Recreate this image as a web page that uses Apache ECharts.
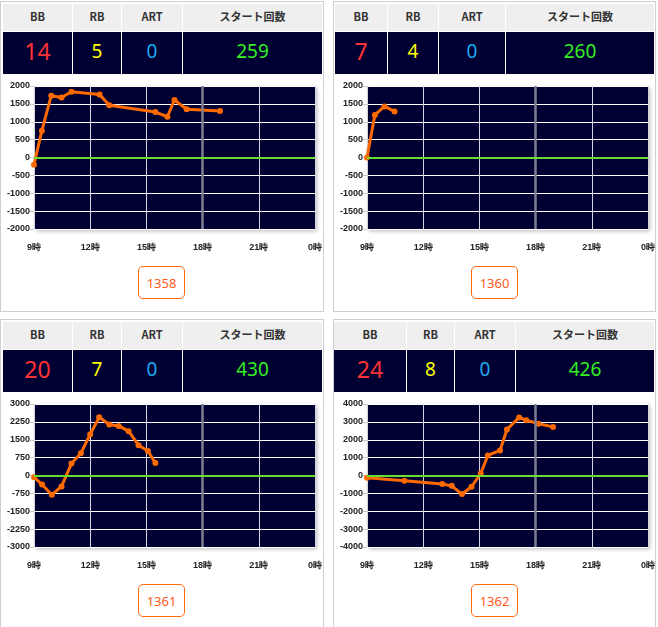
<!DOCTYPE html>
<html><head><meta charset="utf-8">
<script src="https://cdn.jsdelivr.net/npm/echarts@6/dist/echarts.min.js"></script>
<style>
html,body{margin:0;padding:0;background:#fff;}
#wrap{position:relative;width:658px;height:627px;overflow:hidden;}
.panel{position:absolute;box-sizing:border-box;border:1px solid #cfcfcf;background:#fff;}
.cell{position:absolute;display:flex;align-items:center;justify-content:center;box-sizing:border-box;}
.hd{background:#efefef;color:#333;font:bold 11px "Noto Sans CJK JP",sans-serif;padding-bottom:3px;}
.dt{background:#000033;font-family:"Noto Sans","Noto Sans CJK JP",sans-serif;padding-bottom:4px;}
.btn{position:absolute;box-sizing:border-box;border:1px solid #ff6a10;border-radius:5px;color:#ff5a1a;font:13px "Noto Sans",sans-serif;display:flex;align-items:center;justify-content:center;background:#fff;}
#chart{position:absolute;left:0;top:0;width:658px;height:627px;}
</style></head>
<body><div id="wrap"></div>
<script>
// ---- data ----
const headers = ['BB', 'RB', 'ART', 'スタート回数'];
const bbCounts = [14, 7, 20, 24];
const rbCounts = [5, 4, 7, 8];
const artCounts = [0, 0, 0, 0];
const startCounts = [259, 260, 430, 426];
const machineNos = ['1358', '1360', '1361', '1362'];
const hourTicks = [9, 12, 15, 18, 21, 24];
const hourLabels = ['9時', '12時', '15時', '18時', '21時', '0時'];
const yLimits = [2000, 2000, 3000, 4000];
const ySteps = [500, 500, 750, 1000];

const hours1 = [9.0, 9.42, 9.92, 10.47, 11.0, 12.5, 13.02, 15.48, 16.12, 16.5, 17.15, 18.93];
const diff1  = [-200, 750, 1730, 1680, 1840, 1760, 1460, 1270, 1140, 1610, 1350, 1300];
const hours2 = [9.0, 9.42, 9.93, 10.47];
const diff2  = [0, 1190, 1430, 1290];
const hours3 = [9.0, 9.43, 9.95, 10.47, 11.0, 11.5, 12.0, 12.48, 13.02, 13.52, 14.05, 14.58, 15.08, 15.48];
const diff3  = [-70, -380, -810, -460, 500, 930, 1730, 2440, 2140, 2080, 1860, 1270, 1030, 520];
const hours4 = [9.0, 11.0, 13.02, 13.52, 14.07, 14.58, 15.07, 15.45, 16.1, 16.47, 17.12, 17.5, 18.15, 18.93];
const diff4  = [-130, -300, -480, -580, -1040, -630, 110, 1120, 1400, 2570, 3250, 3090, 2900, 2720];
const allHours = [hours1, hours2, hours3, hours4];
const allDiffs = [diff1, diff2, diff3, diff4];

// ---- layout ----
const layout = [
  {x:0,   y:0,   w:324, h:311, cols:[3,72,121,182,322],   gx:34,  btn:138},
  {x:333, y:0,   w:323, h:311, cols:[335,387,438,505,654], gx:367, btn:471},
  {x:0,   y:318, w:324, h:330, cols:[3,72,121,182,322],   gx:34,  btn:138},
  {x:333, y:318, w:323, h:330, cols:[334,406,454,515,654], gx:367, btn:471}
];
const valueColors = ['#ff3333', '#ffff00', '#1eaaf0', '#33ee22'];
const valueSizes = [23, 19, 19, 19];

const wrap = document.getElementById('wrap');
function el(cls, st, txt) {
  const d = document.createElement('div');
  d.className = cls;
  Object.assign(d.style, st);
  if (txt !== undefined) d.textContent = txt;
  wrap.appendChild(d);
  return d;
}
layout.forEach((L, p) => {
  el('panel', {left:L.x+'px', top:(L.y+1)+'px', width:L.w+'px', height:L.h+'px'});
  const vals = [bbCounts[p], rbCounts[p], artCounts[p], startCounts[p]];
  for (let c = 0; c < 4; c++) {
    const left = L.cols[c] + (c > 0 ? 1 : 0);
    const width = L.cols[c+1] - left;
    el('cell hd', {left:left+'px', top:(L.y+4)+'px', width:width+'px', height:'27px'}, headers[c]);
    el('cell dt', {left:left+'px', top:(L.y+32)+'px', width:width+'px', height:'42px',
      color:valueColors[c], fontSize:valueSizes[c]+'px'}, String(vals[c]));
  }
  el('btn', {left:L.btn+'px', top:(L.y+266)+'px', width:'47px', height:'33px'}, machineNos[p]);
});
const cdiv = document.createElement('div');
cdiv.id = 'chart';
wrap.appendChild(cdiv);

const chart = echarts.init(cdiv, null, {renderer:'canvas'});
const grids = [], xAxes = [], yAxes = [], series = [];
layout.forEach((L, p) => {
  grids.push({left:L.gx, top:L.y+86, width:281, height:143, show:true,
    backgroundColor:'#000033', borderWidth:0,
    shadowColor:'rgba(0,0,0,0.28)', shadowBlur:4, shadowOffsetX:2, shadowOffsetY:2});
  xAxes.push({type:'value', gridIndex:p, min:9, max:24, interval:3,
    axisLine:{show:false},
    axisTick:{show:true, length:4, lineStyle:{color:'#c8c8c8'}},
    axisLabel:{margin:14, fontSize:9, fontWeight:'bold', color:'#222', fontFamily:'Liberation Sans',
      formatter: v => hourLabels[hourTicks.indexOf(v)] || ''},
    splitLine:{show:true, lineStyle:{color:'#d4d4e0', width:1}}});
  yAxes.push({type:'value', gridIndex:p, min:-yLimits[p], max:yLimits[p], interval:ySteps[p],
    axisLine:{show:false},
    axisTick:{show:true, length:4, lineStyle:{color:'#c8c8c8'}},
    axisLabel:{margin:4, fontSize:9, fontWeight:'bold', color:'#222', fontFamily:'Liberation Sans',
      formatter: v => String(v)},
    splitLine:{show:true, lineStyle:{color:'#ffffff', width:1}}});
  series.push({type:'line', xAxisIndex:p, yAxisIndex:p, data:[], z:1, silent:true,
    markLine:{silent:true, symbol:'none', label:{show:false}, animation:false,
      data:[
        {xAxis:18, lineStyle:{color:'#7e7e92', width:2.5, type:'solid'}},
        {yAxis:0, lineStyle:{color:'#66dd33', width:2, type:'solid'}}
      ]}});
  series.push({type:'line', xAxisIndex:p, yAxisIndex:p, z:3,
    data: allHours[p].map((h, i) => [h, allDiffs[p][i]]),
    symbol:'circle', symbolSize:6, showSymbol:true,
    lineStyle:{color:'#ff6a00', width:3},
    itemStyle:{color:'#ff6a00'}});
});
chart.setOption({animation:false, grid:grids, xAxis:xAxes, yAxis:yAxes, series:series});
</script>
</body></html>
